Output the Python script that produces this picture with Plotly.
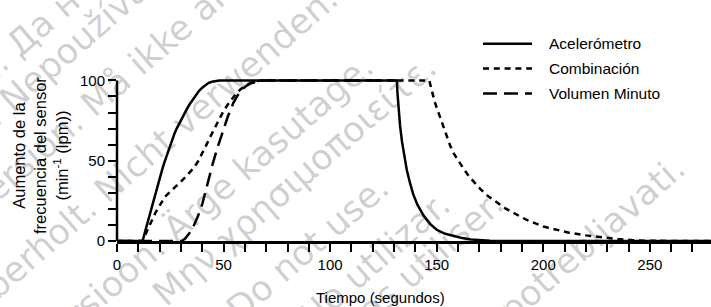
import math
import plotly.graph_objects as go

# ---------------- data ----------------
acc_t = [0, 12, 13, 14, 15, 16, 17, 18, 19, 20, 21, 22, 23, 24, 25, 26, 27, 28, 29.5, 31, 32.5, 34,
         35.5, 37, 38.5, 40, 41.5, 43, 44.5, 46, 48, 50, 131.3, 131.6, 132, 132.8, 133.7, 135, 136,
         137.5, 139, 141, 144, 147, 150, 154, 158, 162, 166, 170, 175, 180, 279]
acc_v = [0, 0, 5, 10, 15, 20, 25, 30, 34.5, 39, 43.5, 48, 52, 56, 60, 63.5, 67, 70, 74, 78, 81.5, 85,
         88, 91, 93.5, 95.5, 97, 98.5, 99.2, 99.6, 99.9, 100, 100, 92, 84, 72, 62, 51, 44,
         36, 29, 22.5, 15.5, 10.5, 7, 4.5, 3, 1.8, 1, 0.5, 0.2, 0, 0]

comb_t = [0, 12, 14, 16, 18, 20, 21.5, 22.5, 24, 26, 28, 30, 32, 34, 36, 38, 40, 42, 44, 46, 48, 50,
          52, 54, 56, 58, 60, 62, 64, 66, 68, 146.5, 147.2, 148, 149, 150, 151.6, 153, 155, 156.3,
          158, 160, 162.6, 165, 168, 170.4, 174, 178, 182, 186, 192, 200, 206, 212, 220, 228, 235,
          242, 250, 279]
comb_v = [0, 0, 6, 12, 17.5, 22, 25.5, 27.5, 29.5, 31.8, 34.5, 37, 39.7, 42.5, 45.5, 49.5, 54.5, 60,
          65.5, 71, 76.5, 81, 85, 88.5, 92, 94.5, 96.5, 98, 99.2, 99.8, 100, 100, 96, 92, 87, 83,
          77, 71.5, 64, 59.5, 54.5, 50, 45, 40.5, 36, 32.5, 28, 24, 20.5, 17.5, 13.3, 9, 7, 5.2,
          3.5, 2.2, 1.2, 0.5, 0.1, 0]

vol_t = [0, 30.4, 32, 34, 36, 38, 40, 41.5, 43, 45, 47, 49, 50.5, 52, 54.6, 56.5, 58.5, 60.5, 62.5,
         65, 67, 131]
vol_v = [0, 0, 1.5, 5, 9.5, 15.5, 23, 31, 39, 48.5, 57.5, 66, 72, 77.5, 86, 90.5, 94, 96.5, 98,
         99.3, 100, 100]

series_names = ["Acelerómetro", "Combinación", "Volumen Minuto"]
x_ticks = list(range(0, 271, 10))
x_labels = [str(v) if v % 50 == 0 else "" for v in x_ticks]
y_ticks = list(range(0, 101, 10))
y_labels = [str(v) if v % 50 == 0 else "" for v in y_ticks]

x_title = "Tiempo (segundos)"
y_title = "Aumento de la<br>frecuencia del sensor<br>(min<sup>-1</sup> (lpm))"

wm_first = ["Остаряла версия. ", "Zastaralá verze. ", "Forældet version. ", "Version überholt. ",
            "Aegunud versioon. ", "Παλιά έκδοση. ", "Outdated version. ", "Versión obsoleta. ",
            "Version périmée. ", "Zastarjela verzija. "]
wm_second = ["Да не се използва.", "Nepoužívat.", "Må ikke anvendes.", "Nicht verwenden.",
             "Ärge kasutage.", "Μην χρησιμοποιείτε.", "Do not use.", "No utilizar.",
             "Ne pas utiliser.", "Ne upotrebljavati."]

# ---------------- layout geometry ----------------
W, H = 711, 307
ML, MR, MT, MB = 117, 0, 73.5, 65.5
PW, PH = W - ML - MR, H - MT - MB
X_MAX = 278.7
Y_MAX = 104


def px2paper(px, py):
    return (px - ML) / PW, (H - MB - py) / PH


FONT = "Arial, Liberation Sans, sans-serif"
WM_FAMILY = "DejaVu Sans, Verdana, sans-serif"
LW = 2.5
dashes = ["solid", "6px,4.8px", "14px,7px"]

fig = go.Figure()
for name, t, v, d in zip(series_names, [acc_t, comb_t, vol_t], [acc_v, comb_v, vol_v], dashes):
    fig.add_trace(go.Scatter(x=t, y=v, mode="lines", name=name, showlegend=False,
                             line=dict(color="black", width=LW, dash=d)))

shapes = []
annotations = []

# y axis line (0..100)
shapes.append(dict(type="line", xref="paper", yref="y", x0=0, x1=0, y0=0, y1=100,
                   line=dict(color="black", width=LW)))

# manual legend
leg_rows_py = [43, 68, 93]
for name, d, py in zip(series_names, dashes, leg_rows_py):
    x0, yy = px2paper(483, py)
    x1, _ = px2paper(532, py)
    shapes.append(dict(type="line", xref="paper", yref="paper", x0=x0, x1=x1, y0=yy, y1=yy,
                       line=dict(color="black", width=LW, dash=d)))
    tx, _ = px2paper(547, py)
    annotations.append(dict(text=name, xref="paper", yref="paper", x=tx, y=yy, xanchor="left",
                            yanchor="middle", showarrow=False,
                            font=dict(family=FONT, size=15.5, color="black")))

# axis titles
tx, ty = px2paper(380, 298)
annotations.append(dict(text=x_title, xref="paper", yref="paper", x=tx, y=ty, xanchor="center",
                        yanchor="middle", showarrow=False,
                        font=dict(family=FONT, size=15, color="black")))
tx, ty = px2paper(40, 156)
annotations.append(dict(text=y_title, xref="paper", yref="paper", x=tx, y=ty, xanchor="center",
                        yanchor="middle", textangle=-90, showarrow=False,
                        font=dict(family=FONT, size=16.5, color="black")))

# watermark (semi-transparent grey text, rotated)
WM_FONT = 35
WM_ANG = 41
CHAR_W = 0.6
anchors = [(8, 52), (20, 92), (97, 100), (115, 182), (172, 232), (155, 302), (240, 308),
           (305, 322), (292, 378), (455, 360)]
ca, sa = math.cos(math.radians(WM_ANG)), math.sin(math.radians(WM_ANG))
for a, b, (axp, ayp) in zip(wm_first, wm_second, anchors):
    full = a + b
    wtot = CHAR_W * WM_FONT * len(full)
    wfirst = CHAR_W * WM_FONT * len(a)
    off = wtot / 2 - wfirst
    cx, cy = axp + off * ca, ayp - off * sa
    px_, py_ = px2paper(cx, cy)
    annotations.append(dict(text=full, xref="paper", yref="paper", x=px_, y=py_, xanchor="center",
                            yanchor="middle", textangle=-WM_ANG, showarrow=False,
                            font=dict(family=WM_FAMILY, size=WM_FONT, color="rgba(0,0,0,0.2)")))

fig.update_layout(
    width=W, height=H, autosize=False,
    margin=dict(l=ML, r=MR, t=MT, b=MB, pad=0),
    paper_bgcolor="white", plot_bgcolor="white",
    font=dict(family=FONT, color="black"),
    shapes=shapes, annotations=annotations,
    xaxis=dict(range=[0, X_MAX], showline=True, linecolor="black", linewidth=LW, ticks="outside",
               ticklen=8, tickwidth=2, tickcolor="black", tickvals=x_ticks, ticktext=x_labels,
               tickfont=dict(size=15, family=FONT), showgrid=False, zeroline=False),
    yaxis=dict(range=[0, Y_MAX], showline=False, ticks="outside", ticklen=8, tickwidth=2,
               tickcolor="black", tickvals=y_ticks, ticktext=y_labels,
               tickfont=dict(size=15, family=FONT), showgrid=False, zeroline=False),
)

fig.write_html("out.html", config={"displayModeBar": False},
               post_script="document.body.style.margin='0px';")
